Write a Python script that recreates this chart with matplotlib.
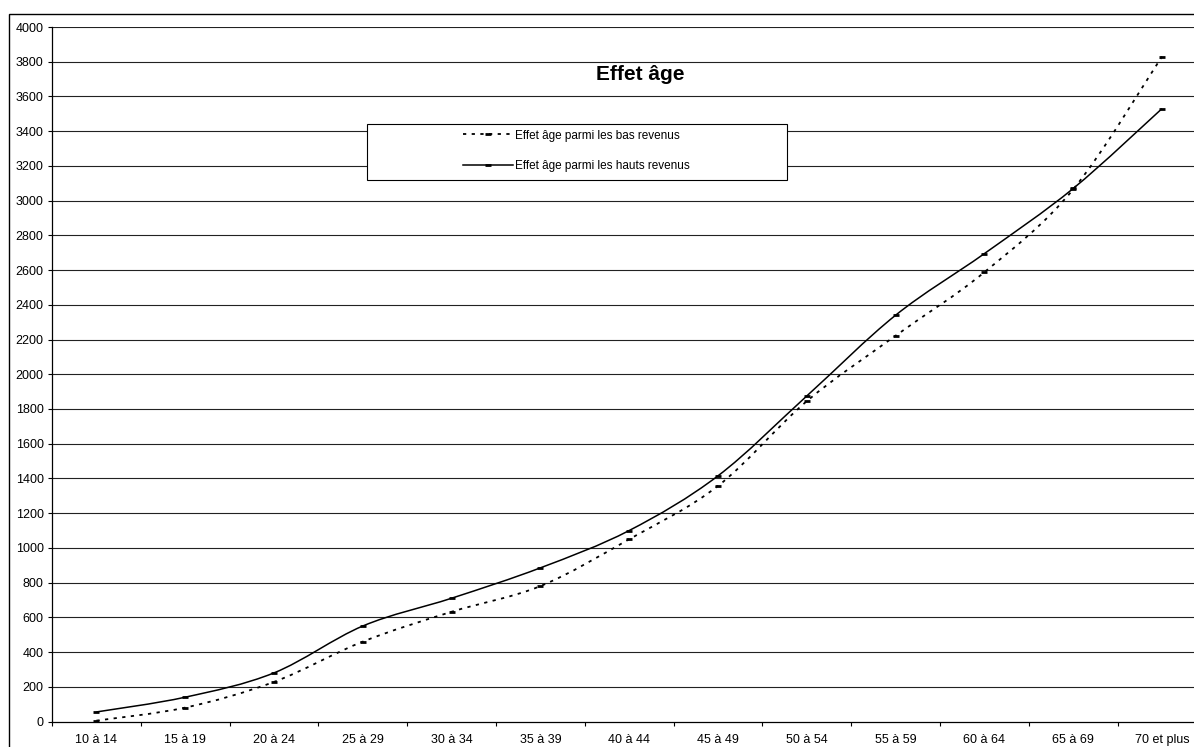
import matplotlib
matplotlib.use("Agg")
import matplotlib.pyplot as plt
from matplotlib.path import Path
from matplotlib.patches import PathPatch, Rectangle
from matplotlib.lines import Line2D
import numpy as np

plt.rcParams['font.family'] = ['Liberation Sans', 'DejaVu Sans']

categories = ['10 à 14', '15 à 19', '20 à 24', '25 à 29', '30 à 34', '35 à 39', '40 à 44',
              '45 à 49', '50 à 54', '55 à 59', '60 à 64', '65 à 69', '70 et plus']
bas_revenus = [5, 80, 228, 460, 632, 780, 1050, 1357, 1845, 2222, 2588, 3065, 3830]
hauts_revenus = [55, 140, 280, 550, 710, 885, 1100, 1415, 1875, 2340, 2695, 3070, 3530]
label_bas = 'Effet âge parmi les bas revenus'
label_hauts = 'Effet âge parmi les hauts revenus'
yticks = list(range(0, 4001, 200))


def smooth_path(xs, ys):
    # Bezier curve through the points (like Excel's smoothed line)
    pts = np.column_stack([xs, ys]).astype(float)
    n = len(pts)
    verts = [pts[0]]
    codes = [Path.MOVETO]
    for i in range(n - 1):
        p0 = pts[i - 1] if i > 0 else pts[i]
        p1 = pts[i]
        p2 = pts[i + 1]
        p3 = pts[i + 2] if i + 2 < n else pts[i + 1]
        c1 = p1 + (p2 - p0) / 6.0
        c2 = p2 - (p3 - p1) / 6.0
        verts += [c1, c2, p2]
        codes += [Path.CURVE4] * 3
    return Path(verts, codes)


W, H = 1194, 747
fig = plt.figure(figsize=(W / 100, H / 100), dpi=100)
ax_left, ax_bottom, ax_top, cat_w = 52, 721.5, 27, 88.8
ax = fig.add_axes([ax_left / W, (H - ax_bottom) / H, 13 * cat_w / W, (ax_bottom - ax_top) / H])

x = np.arange(len(categories))
dash = (0, (1.8, 3))

for vals, style in [(bas_revenus, 'dashed'), (hauts_revenus, 'solid')]:
    if style == 'dashed':
        patch = PathPatch(smooth_path(x, vals), fill=False, edgecolor='black', lw=1.3,
                          linestyle=dash, zorder=3)
    else:
        patch = PathPatch(smooth_path(x, vals), fill=False, edgecolor='black', lw=1.1, zorder=3)
    ax.add_patch(patch)
    ax.plot(x, vals, linestyle='none', marker='_', ms=4, mew=2, color='black', zorder=4)

ax.set_xlim(-0.5, len(categories) - 0.5)
ax.set_ylim(0, 4000)
ax.set_yticks(yticks)
ax.set_yticklabels([str(v) for v in yticks], fontsize=9)
ax.set_xticks(x)
ax.set_xticklabels(categories, fontsize=9)
ax.set_xticks(np.arange(len(categories) + 1) - 0.5, minor=True)
ax.tick_params(axis='x', which='major', length=0, pad=9)
ax.tick_params(axis='x', which='minor', length=3, width=0.8, direction='out')
ax.tick_params(axis='y', length=3, width=0.8, direction='out', pad=3)

for v in yticks[1:]:
    ax.axhline(v, color='#222222', lw=0.8, zorder=1)

ax.spines['top'].set_visible(False)
ax.spines['right'].set_visible(False)
ax.spines['left'].set_linewidth(0.9)
ax.spines['bottom'].set_linewidth(0.9)

fig.text(640 / W, 1 - 75 / H, 'Effet âge', fontsize=15, fontweight='bold', ha='center', va='center')

# legend box
fig.patches.append(Rectangle((367 / W, 1 - 180 / H), 420 / W, 56 / H, transform=fig.transFigure,
                             facecolor='white', edgecolor='black', lw=0.8, zorder=5))
handles = [Line2D([], [], color='black', lw=1.3, linestyle=dash, marker='_', ms=4, mew=2),
           Line2D([], [], color='black', lw=1.1, marker='_', ms=4, mew=2)]
leg = fig.legend(handles, [label_bas, label_hauts], loc='center', bbox_to_anchor=(576 / W, 1 - 151 / H),
                 frameon=False, fontsize=8.5, handlelength=4.3, handletextpad=0.1, labelspacing=1.6,
                 numpoints=1)
leg.set_zorder(6)

# outer chart frame
fig.patches.append(Rectangle((9 / W, -0.1), 1.2, 1.1 - 14 / H, transform=fig.transFigure,
                             fill=False, edgecolor='black', lw=1.0))

fig.savefig('out.png', dpi=100)
